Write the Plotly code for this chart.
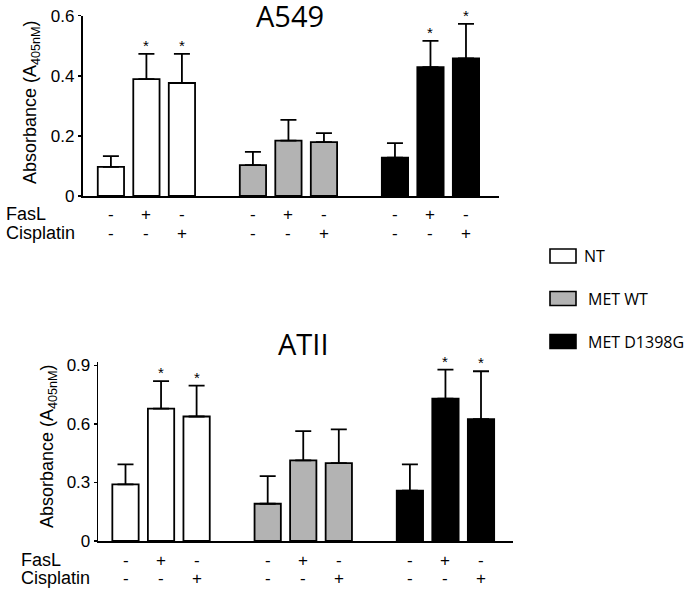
import plotly.graph_objects as go

# ---- data ----
groups = ["NT", "MET WT", "MET D1398G"]
group_colors = ["#ffffff", "#b3b3b3", "#000000"]
conditions = ["ctrl", "FasL", "Cisplatin"]
fasl_signs = ["-", "+", "-"]
cis_signs = ["-", "-", "+"]

a549_mean = {
    "NT": [0.097, 0.389, 0.376],
    "MET WT": [0.103, 0.184, 0.179],
    "MET D1398G": [0.128, 0.429, 0.458],
}
a549_err = {
    "NT": [0.036, 0.084, 0.097],
    "MET WT": [0.044, 0.069, 0.030],
    "MET D1398G": [0.048, 0.087, 0.115],
}
a549_sig = {
    "NT": [False, True, True],
    "MET WT": [False, False, False],
    "MET D1398G": [False, True, True],
}

atii_mean = {
    "NT": [0.290, 0.678, 0.638],
    "MET WT": [0.191, 0.413, 0.399],
    "MET D1398G": [0.258, 0.729, 0.625],
}
atii_err = {
    "NT": [0.103, 0.141, 0.158],
    "MET WT": [0.142, 0.150, 0.173],
    "MET D1398G": [0.135, 0.149, 0.245],
}
atii_sig = {
    "NT": [False, True, True],
    "MET WT": [False, False, False],
    "MET D1398G": [False, True, True],
}

panels = [
    dict(title="A549", mean=a549_mean, err=a549_err, sig=a549_sig,
         yticks=[0, 0.2, 0.4, 0.6], yrange=[0, 0.6]),
    dict(title="ATII", mean=atii_mean, err=atii_err, sig=atii_sig,
         yticks=[0, 0.3, 0.6, 0.9], yrange=[0, 0.92]),
]

W, H = 690, 592
geom = [
    dict(xl=82.5, xr=499, yt=15.7, yb=196, xrange=[-0.80, 10.93],
         title_xy=(290, 16), ytitle_xy=(32, 102), row1=214, row2=233, lab_x=4),
    dict(xl=98.3, xr=513, yt=361.5, yb=541, xrange=[-0.765, 10.9],
         title_xy=(303, 344), ytitle_xy=(48, 446), row1=560, row2=578, lab_x=19),
]

def px(x):
    return x / W

def py(y):
    return 1 - y / H

fig = go.Figure()
annotations = []
shapes = []
font_main = "Liberation Sans, Arial, sans-serif"
font_cal = "Open Sans, Noto Sans, sans-serif"

for pi, (p, g) in enumerate(zip(panels, geom)):
    xa = "x" if pi == 0 else "x2"
    ya = "y" if pi == 0 else "y2"
    for gi, grp in enumerate(groups):
        pos = [gi * 4 + ci for ci in range(len(conditions))]
        fig.add_trace(go.Bar(
            x=pos, y=p["mean"][grp], xaxis=xa, yaxis=ya,
            width=0.74, name=grp, showlegend=False, hoverinfo="skip",
            marker=dict(color=group_colors[gi], line=dict(color="#000000", width=1.8)),
            error_y=dict(type="data", symmetric=False, array=p["err"][grp],
                         arrayminus=[0] * 3, color="#000000", thickness=1.8, width=8),
        ))
        for ci in range(len(conditions)):
            if p["sig"][grp][ci]:
                annotations.append(dict(
                    x=pos[ci], y=p["mean"][grp][ci] + p["err"][grp][ci],
                    xref=xa, yref=ya, text="*", showarrow=False,
                    yanchor="bottom", yshift=-2,
                    font=dict(family=font_main, size=15, color="#000000")))
            annotations.append(dict(
                x=pos[ci], y=py(g["row1"]), xref=xa, yref="paper",
                text=fasl_signs[ci], showarrow=False, yanchor="middle",
                font=dict(family=font_main, size=17, color="#000000")))
            annotations.append(dict(
                x=pos[ci], y=py(g["row2"]), xref=xa, yref="paper",
                text=cis_signs[ci], showarrow=False, yanchor="middle",
                font=dict(family=font_main, size=17, color="#000000")))

    annotations.append(dict(x=px(g["lab_x"]), y=py(g["row1"]), xref="paper", yref="paper",
                            text="FasL", showarrow=False, xanchor="left", yanchor="middle",
                            font=dict(family=font_main, size=18, color="#000000")))
    annotations.append(dict(x=px(g["lab_x"]), y=py(g["row2"]), xref="paper", yref="paper",
                            text="Cisplatin", showarrow=False, xanchor="left", yanchor="middle",
                            font=dict(family=font_main, size=18, color="#000000")))
    annotations.append(dict(x=px(g["title_xy"][0]), y=py(g["title_xy"][1]), xref="paper",
                            yref="paper", text=p["title"], showarrow=False,
                            xanchor="center", yanchor="middle",
                            font=dict(family=font_cal, size=29, color="#000000")))
    annotations.append(dict(x=px(g["ytitle_xy"][0]), y=py(g["ytitle_xy"][1]), xref="paper",
                            yref="paper", text="Absorbance (A<sub>405nM</sub>)",
                            showarrow=False, textangle=-90, xanchor="center", yanchor="middle",
                            font=dict(family=font_main, size=18, color="#000000")))

    xaxis = dict(domain=[px(g["xl"]), px(g["xr"])], range=g["xrange"], showgrid=False,
                 zeroline=False, showline=True, linecolor="#000000", linewidth=1.6,
                 showticklabels=False, ticks="", anchor=ya, fixedrange=True,
                 automargin=False)
    yaxis = dict(domain=[py(g["yb"]), py(g["yt"])], range=p["yrange"], showgrid=False,
                 zeroline=False, showline=True, linecolor="#000000", linewidth=1.6,
                 tickvals=p["yticks"], ticktext=[("%g" % v) for v in p["yticks"]],
                 ticks="outside", ticklen=3, tickwidth=1.4, tickcolor="#000000",
                 tickfont=dict(family=font_main, size=17, color="#000000"),
                 anchor=xa, fixedrange=True, automargin=False)
    if pi == 0:
        fig.update_layout(xaxis=xaxis, yaxis=yaxis)
    else:
        fig.update_layout(xaxis2=xaxis, yaxis2=yaxis)

# ---- legend (drawn manually) ----
legend_rows = [256, 298.5, 341.5]
for gi, grp in enumerate(groups):
    yc = legend_rows[gi]
    shapes.append(dict(type="rect", xref="paper", yref="paper",
                       x0=px(550), x1=px(576), y0=py(yc - 7), y1=py(yc + 7),
                       fillcolor=group_colors[gi], line=dict(color="#000000", width=1.6)))
    annotations.append(dict(x=px(582 if gi == 0 else 586), y=py(yc), xref="paper", yref="paper",
                            text=grp, showarrow=False, xanchor="left", yanchor="middle",
                            font=dict(family=font_cal, size=16, color="#000000")))

fig.update_layout(
    template="none",
    width=W, height=H, margin=dict(l=0, r=0, t=0, b=0, pad=0, autoexpand=False),
    paper_bgcolor="#ffffff", plot_bgcolor="rgba(0,0,0,0)",
    barmode="overlay", bargap=0, annotations=annotations, shapes=shapes, showlegend=False,
    hovermode=False,
)

fig.write_html(
    "out.html",
    config={"displayModeBar": False, "staticPlot": True},
    post_script="document.body.style.margin='0';document.body.style.overflow='hidden';",
)
